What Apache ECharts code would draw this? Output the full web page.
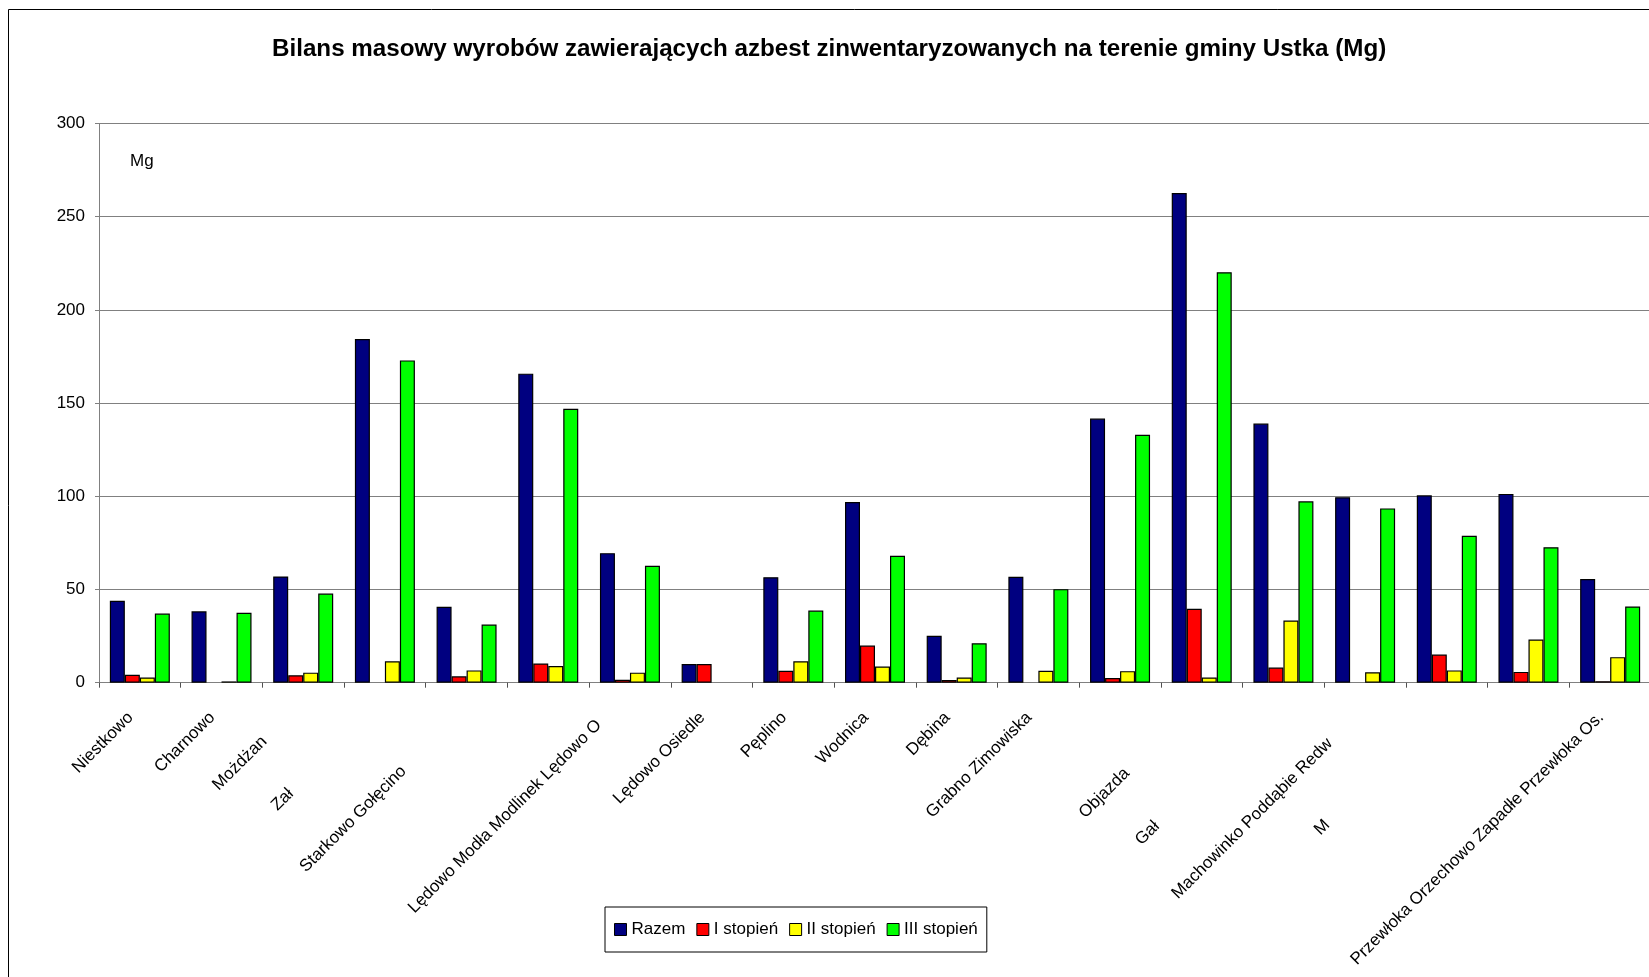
<!DOCTYPE html>
<html>
<head>
<meta charset="utf-8">
<script src="https://cdn.jsdelivr.net/npm/echarts@6/dist/echarts.min.js"></script>
<style>
html,body{margin:0;padding:0;overflow:hidden;background:#fff;width:1649px;height:977px}
#c{width:1700px;height:1000px}
</style>
</head>
<body>
<div id="c"></div>
<script>
const categories = ['Niestkowo','Charnowo','Możdżan','Zał','Starkowo Gołęcino','','Lędowo Modła Modlinek Lędowo O','Lędowo Osiedle','Pęplino','Wodnica','Dębina','Grabno Zimowiska','','Objazda','Gał','Machowinko Poddąbie Redw','M','','Przewłoka Orzechowo Zapadłe Przewłoka Os.'];
const seriesNames = ['Razem','I stopień','II stopień','III stopień'];
const razem    = [44, 38.3, 57, 184.4, 40.7, 165.8, 69.5, 10, 56.6, 96.9, 25.2, 56.8, 141.7, 262.7, 139, 99.5, 100.5, 101.3, 55.6];
const stopien1 = [4.2, 0, 4, 0, 3.4, 10.3, 1.6, 10, 6.4, 19.9, 1.4, 0, 2.5, 39.7, 8.1, 0, 15.1, 5.8, 0.8];
const stopien2 = [2.8, 0.7, 5.4, 11.5, 6.6, 8.9, 5.4, 0, 11.5, 8.7, 2.8, 6.4, 6.2, 2.8, 33.4, 5.6, 6.6, 23.2, 13.7];
const stopien3 = [37.1, 37.5, 47.8, 172.9, 31.2, 147, 62.7, 0, 38.7, 68.1, 21.2, 50.2, 133, 220.2, 97.3, 93.5, 78.8, 72.7, 40.9];
const yTicks = [0, 50, 100, 150, 200, 250, 300];
const titleText = 'Bilans masowy wyrobów zawierających azbest zinwentaryzowanych na terenie gminy Ustka (Mg)';
const unitText = 'Mg';

// label layout only: shift back along the rotated baseline, and lift perpendicular (px)
const labelShift = [0,0,38,114,76,0,21,0,0,0,0,0,0,86,160,37,154,0,0];
const labelLift  = [0,0,4,6,0,0,10,0,0,0,0,0,0,7,6,0,2,0,0];
const colors = ['#000080','#FF0000','#FFFF00','#00FF00'];
const FONT = '"Liberation Sans", Arial, sans-serif';

const rich = {};
labelShift.forEach((s, i) => {
  rich['s' + i] = {fontSize: 17, fontFamily: FONT, color: '#000', padding: [0, 13 + s, 2 * labelLift[i], 0]};
});

const values = [razem, stopien1, stopien2, stopien3];
const chart = echarts.init(document.getElementById('c'), null, {renderer: 'canvas'});
chart.setOption({
  animation: false,
  backgroundColor: '#fff',
  title: {
    text: titleText, left: 272, top: 37.5, padding: 0,
    textStyle: {fontSize: 24.2, fontWeight: 'bold', fontFamily: FONT, color: '#000', lineHeight: 24}
  },
  grid: {left: 99, top: 123.5, width: 1552, height: 559.2},
  legend: {
    data: seriesNames, left: 605, top: 907, padding: [14, 9, 14, 9],
    borderColor: '#000', borderWidth: 1, itemWidth: 12, itemHeight: 12, itemGap: 11,
    icon: 'rect',
    itemStyle: {borderColor: '#000', borderWidth: 1},
    textStyle: {fontSize: 17, fontFamily: FONT, color: '#000'}
  },
  xAxis: {
    type: 'category', data: categories,
    axisLine: {lineStyle: {color: '#808080', width: 1}},
    axisTick: {show: true, length: 5, lineStyle: {color: '#505050'}},
    axisLabel: {
      rotate: 45, interval: 0, margin: 23,
      formatter: (v, i) => v ? '{s' + i + '|' + v + '}' : '',
      rich: rich
    },
    splitLine: {show: false}
  },
  yAxis: {
    type: 'value', min: yTicks[0], max: yTicks[yTicks.length - 1], interval: 50,
    axisLine: {show: true, lineStyle: {color: '#808080', width: 1}},
    axisTick: {show: true, length: 4, lineStyle: {color: '#808080'}},
    axisLabel: {margin: 14, fontSize: 17, fontFamily: FONT, color: '#000'},
    splitLine: {show: true, lineStyle: {color: '#808080', width: 1}}
  },
  graphic: [
    {type: 'rect', shape: {x: 8.5, y: 9.5, width: 1800, height: 1100}, style: {fill: 'none', stroke: '#000', lineWidth: 1}, z: 100, silent: true},
    {type: 'text', x: 130, y: 161.5, style: {text: unitText, fontSize: 17, fontFamily: FONT, fill: '#000', verticalAlign: 'middle'}}
  ],
  series: seriesNames.map((n, k) => ({
    name: n, type: 'bar', barWidth: 15, barGap: '0%',
    data: values[k].map(v => v === 0 ? null : v),
    itemStyle: {color: colors[k], borderColor: '#000', borderWidth: 1.2}
  }))
});
</script>
</body>
</html>
